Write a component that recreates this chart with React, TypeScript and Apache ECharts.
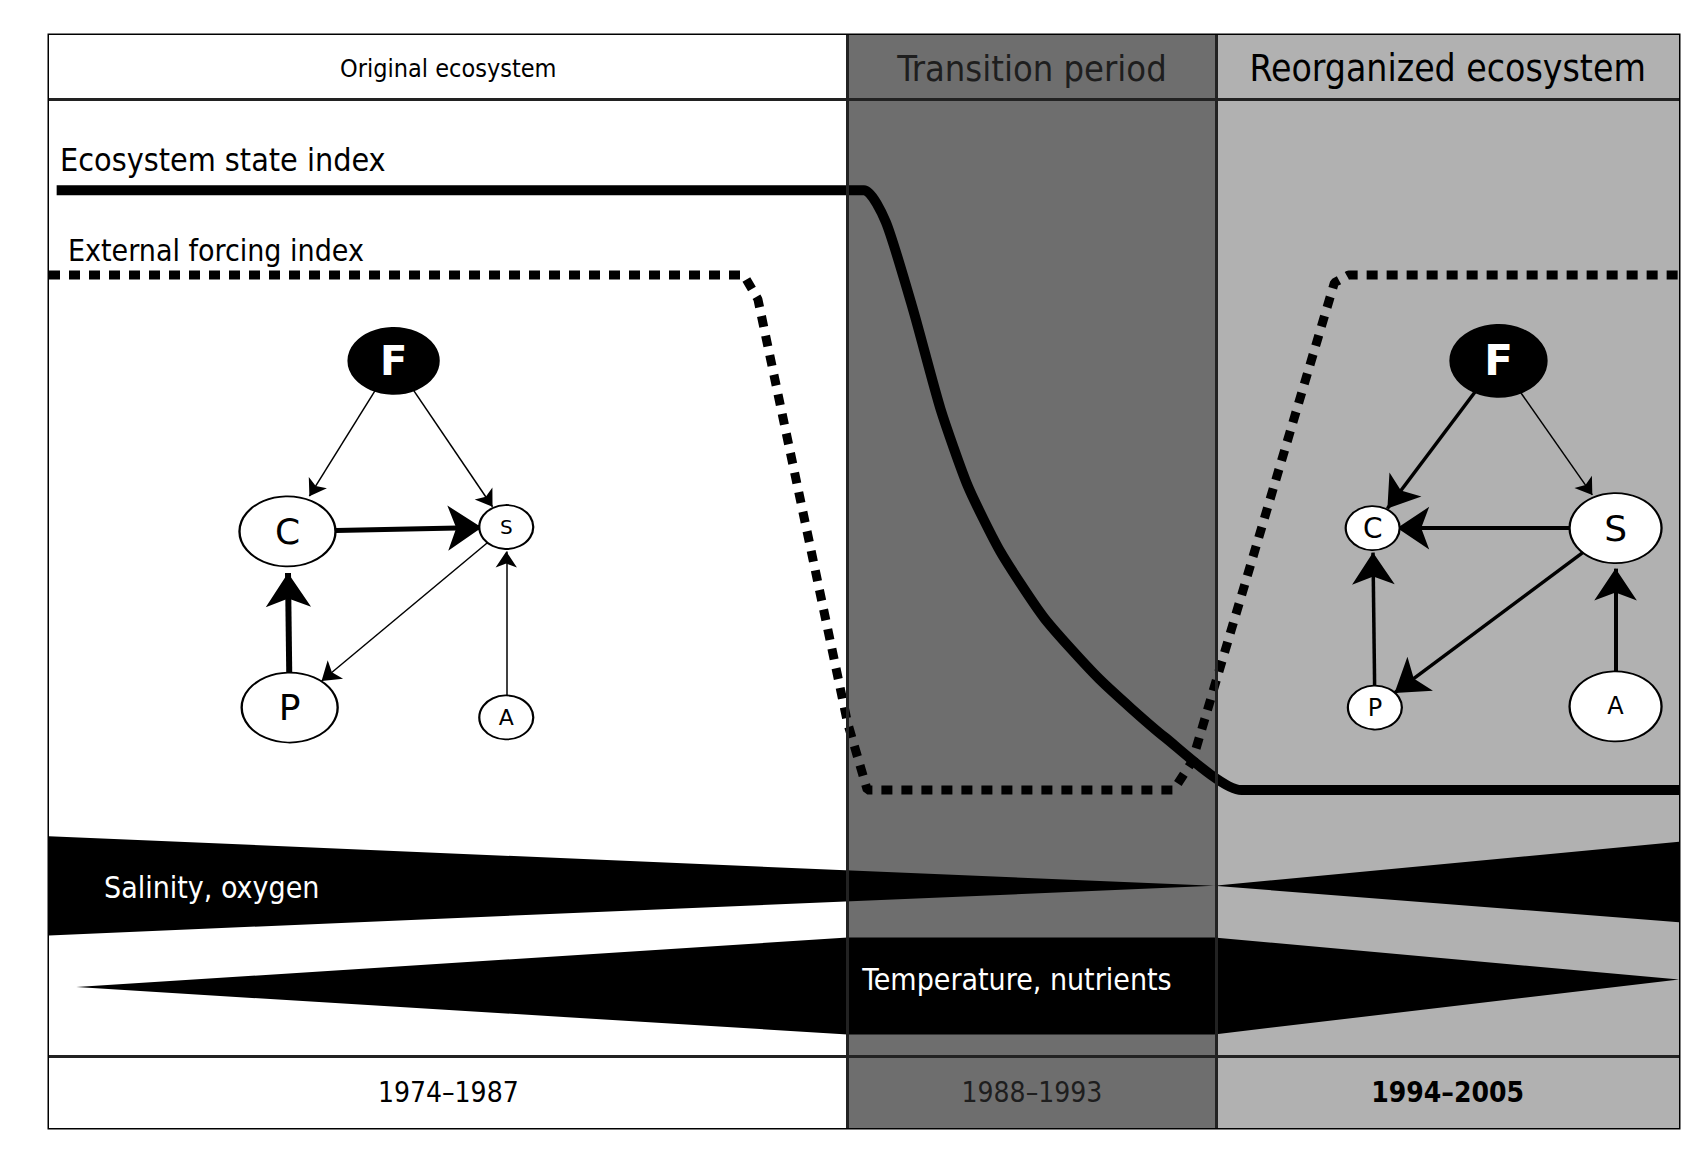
import React, { useEffect, useRef } from 'react';
import * as echarts from 'echarts';

// diagram units: x 0..1490 (left to right), y 0..993 (top to bottom)
const X_MAX = 1490;
const Y_MAX = 993;
const periods = [
  { name: 'Original ecosystem', years: '1974–1987', from: 0, to: 730, color: '#ffffff', text: '#000000', size: 25 },
  { name: 'Transition period', years: '1988–1993', from: 730, to: 1067, color: '#6e6e6e', text: '#1e1e1e', size: 36 },
  { name: 'Reorganized ecosystem', years: '1994–2005', from: 1067, to: 1490, color: '#b1b1b1', text: '#000000', size: 37 },
];
const headerBottom = 58;
const footerTop = 928;

const stateIndex = [
  [7, 141], [745, 141], [765, 170], [790, 250], [815, 340], [840, 410], [870, 470],
  [910, 530], [960, 585], [1020, 638], [1090, 686], [1490, 686],
];
const forcingIndex = [
  [0, 218], [635, 218], [648, 240], [730, 625], [748, 686], [1028, 686],
  [1045, 660], [1175, 225], [1188, 218], [1490, 218],
];
const salinityLeft = [[0, 728], [1065, 773], [0, 818]];
const salinityRight = [[1065, 773], [1490, 733], [1490, 806]];
const temperature = [[25, 865], [730, 820], [1065, 820], [1490, 858], [1065, 908], [730, 908]];

const leftNodes = [
  { name: 'F', pos: [315, 296], size: [90, 66], dark: true, font: 40 },
  { name: 'C', pos: [218, 451], size: [96, 70], font: 36 },
  { name: 'S', pos: [418, 447], size: [54, 44], font: 20 },
  { name: 'P', pos: [220, 611], size: [96, 70], font: 36 },
  { name: 'A', pos: [418, 620], size: [54, 44], font: 22 },
];
const leftLinks = [
  ['F', 'C', 1.5, 16], ['F', 'S', 1.5, 16], ['C', 'S', 5, 34], ['P', 'C', 6, 34],
  ['S', 'P', 1.5, 18], ['A', 'S', 1.5, 16],
];
const rightNodes = [
  { name: 'F', pos: [1325, 296], size: [96, 72], dark: true, font: 42 },
  { name: 'C', pos: [1210, 448], size: [54, 44], font: 28 },
  { name: 'S', pos: [1432, 448], size: [92, 70], font: 36 },
  { name: 'P', pos: [1212, 611], size: [54, 44], font: 24 },
  { name: 'A', pos: [1432, 610], size: [92, 70], font: 24 },
];
const rightLinks = [
  ['F', 'C', 3.5, 30], ['F', 'S', 1.5, 16], ['S', 'C', 4, 32], ['S', 'P', 3.5, 32],
  ['P', 'C', 3.5, 32], ['A', 'S', 4, 32],
];

const G = { left: 49, top: 35, width: 1630, height: 1093 };
const px = (x: number) => G.left + (x * G.width) / X_MAX;
const py = (y: number) => G.top + (y * G.height) / Y_MAX;

const graphSeries = (nodes: any[], links: any[], id: string) => ({
  type: 'graph',
  id,
  coordinateSystem: 'cartesian2d',
  z: 5,
  edgeSymbol: ['none', 'arrow'],
  data: nodes.map((n) => ({
    name: n.name,
    value: n.pos,
    symbol: 'circle',
    symbolSize: n.size,
    itemStyle: { color: n.dark ? '#000' : '#fff', borderColor: '#000', borderWidth: 2 },
    label: {
      show: true, position: 'inside', formatter: n.name, fontFamily: 'DejaVu Sans',
      fontSize: n.font, fontWeight: n.dark ? 'bold' : 'normal', color: n.dark ? '#fff' : '#000',
    },
  })),
  links: links.map(([s, t, w, a]) => ({
    source: s, target: t, symbolSize: [0, a],
    lineStyle: { width: w, color: '#000', opacity: 1 },
  })),
  lineStyle: { color: '#000', opacity: 1 },
});

const polygonSeries = (shapes: number[][][], id: string) => ({
  type: 'custom',
  id,
  z: 3,
  data: shapes.map((_, i) => [i]),
  renderItem: (params: any, api: any) => ({
    type: 'polygon',
    shape: { points: shapes[params.dataIndex].map((p) => api.coord(p)) },
    style: { fill: '#000' },
  }),
});

const App: React.FC = () => {
  const chartRef = useRef<HTMLDivElement>(null);

  useEffect(() => {
    document.body.style.margin = '0';
    const chart = echarts.init(chartRef.current as HTMLDivElement, null, { renderer: 'svg' });
    const font = 'DejaVu Sans Condensed';
    const texts: any[] = [];
    periods.forEach((p) => {
      const cx = px((p.from + p.to) / 2);
      texts.push({
        type: 'text', x: cx, y: py(headerBottom / 2) + 2, z: 10,
        style: { text: p.name, fill: p.text, font: `${p.size}px "${font}"`, align: 'center', verticalAlign: 'middle' },
      });
      texts.push({
        type: 'text', x: cx, y: py((footerTop + Y_MAX) / 2), z: 10,
        style: { text: p.years, fill: p.text, font: `${p.from === 1067 ? 'bold ' : ''}28px "${font}"`, align: 'center', verticalAlign: 'middle' },
      });
    });
    texts.push(
      { type: 'text', x: 60, y: 160, z: 10, style: { text: 'Ecosystem state index', fill: '#000', font: `32px "${font}"`, verticalAlign: 'middle' } },
      { type: 'text', x: 68, y: 250, z: 10, style: { text: 'External forcing index', fill: '#000', font: `30px "${font}"`, verticalAlign: 'middle' } },
      { type: 'text', x: 104, y: 887, z: 10, style: { text: 'Salinity, oxygen', fill: '#fff', font: `30px "${font}"`, verticalAlign: 'middle' } },
      { type: 'text', x: 1017, y: 979, z: 10, style: { text: 'Temperature, nutrients', fill: '#fff', font: `30px "${font}"`, align: 'center', verticalAlign: 'middle' } },
    );

    chart.setOption({
      animation: false,
      grid: { ...G, show: true, borderColor: '#000', borderWidth: 3, backgroundColor: '#fff' },
      xAxis: { type: 'value', min: 0, max: X_MAX, show: false },
      yAxis: { type: 'value', min: 0, max: Y_MAX, inverse: true, show: false },
      graphic: texts,
      series: [
        {
          type: 'line', id: 'frame', data: [], z: 1,
          markArea: {
            silent: true,
            data: periods.map((p) => [
              { xAxis: p.from, yAxis: 0, itemStyle: { color: p.color } },
              { xAxis: p.to, yAxis: Y_MAX },
            ]),
          },
          markLine: {
            silent: true, symbol: 'none', label: { show: false },
            lineStyle: { color: '#222', width: 3, type: 'solid' },
            data: [
              { yAxis: headerBottom }, { yAxis: footerTop },
              { xAxis: periods[1].from }, { xAxis: periods[2].from },
            ],
          },
        },
        polygonSeries([salinityLeft, salinityRight, temperature], 'wedges'),
        {
          type: 'line', id: 'state', data: stateIndex, smooth: 0.2, symbol: 'none', z: 4,
          lineStyle: { color: '#000', width: 10 },
        },
        {
          type: 'line', id: 'forcing', data: forcingIndex, symbol: 'none', z: 4,
          lineStyle: { color: '#000', width: 9, type: [11, 9], cap: 'butt' },
        },
        graphSeries(leftNodes, leftLinks, 'left'),
        graphSeries(rightNodes, rightLinks, 'right'),
      ],
    });
    return () => chart.dispose();
  }, []);

  return <div ref={chartRef} style={{ width: '1707px', height: '1156px' }}></div>;
};

export default App;
